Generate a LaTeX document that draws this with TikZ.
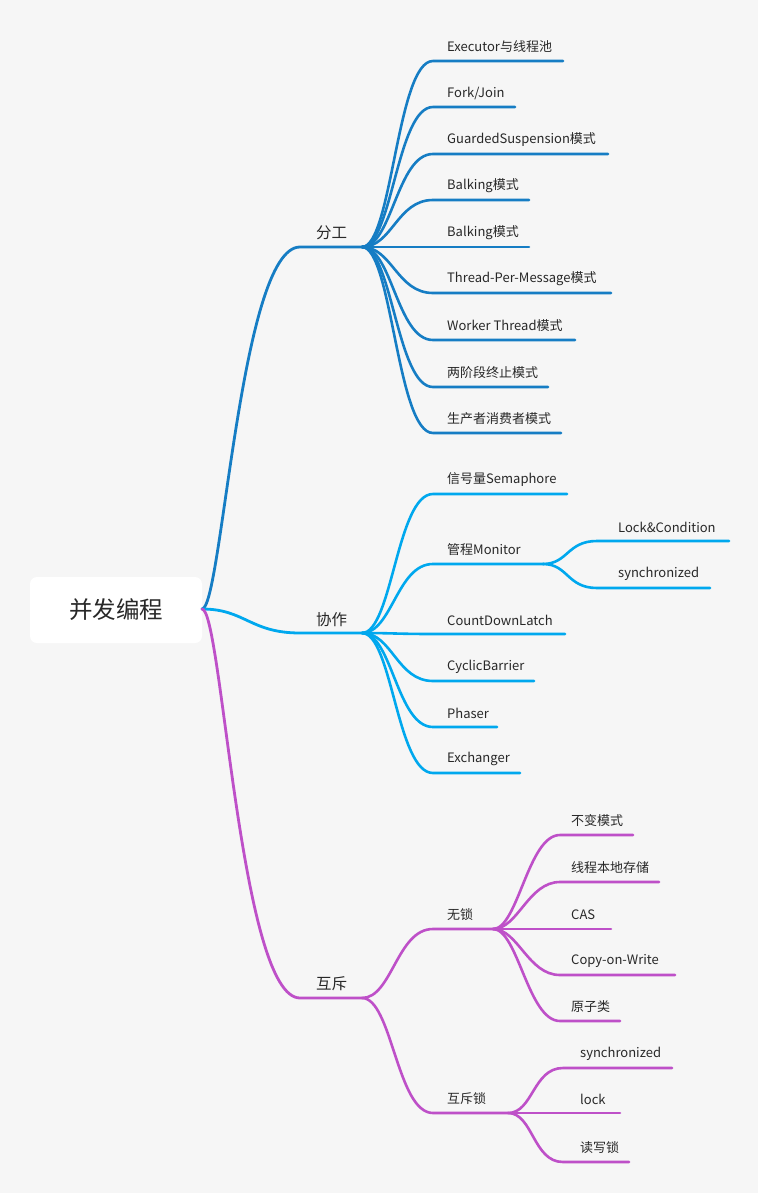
\documentclass[tikz,border=0pt]{standalone}
\usepackage{fontspec}
\setmainfont{Noto Sans CJK SC}
\definecolor{bgc}{RGB}{246,246,246}
\definecolor{cblue}{RGB}{22,125,196}
\definecolor{ccyan}{RGB}{0,168,238}
\definecolor{cpurp}{RGB}{190,80,200}
\definecolor{ctext}{RGB}{40,40,40}
\begin{document}
\begin{tikzpicture}[x=1pt,y=-1pt,
  rootbox/.style={fill=white,rounded corners=7pt,minimum width=172pt,minimum height=66pt,inner sep=0pt,text=ctext,font=\fontsize{23.5}{28}\selectfont},
  mainlbl/.style={anchor=west,inner sep=0pt,text=ctext,font=\fontsize{15.5}{18}\selectfont},
  leaf/.style={anchor=west,inner sep=0pt,text=ctext,font=\fontsize{13}{16}\selectfont},
  mainline/.style={line width=2.8pt,line cap=round},
  leafline/.style={line width=2.6pt,line cap=round},
]
\fill[bgc] (0,0) rectangle (758,1193);
\useasboundingbox (0,0) rectangle (758,1193);

\node[rootbox] (root) at (116,610) {并发编程};
\coordinate (r) at (202,609);

% main branches
\coordinate (fgs) at (300,247); \coordinate (fg) at (362,247);
\coordinate (xzs) at (300,633); \coordinate (xz) at (362,633);
\coordinate (hcs) at (300,998); \coordinate (hc) at (362,998);
\node[mainlbl] (fgl) at (316,233) {分工};
\node[mainlbl] (xzl) at (316,620) {协作};
\node[mainlbl] (hcl) at (316,984) {互斥};
\draw[mainline,cblue] (r) .. controls (222,609) and (240,247) .. (fgs) -- (fg);
\draw[mainline,ccyan] (r) .. controls (245,609) and (250,633) .. (xzs) -- (xz);
\draw[mainline,cpurp] (r) .. controls (222,609) and (240,998) .. (hcs) -- (hc);

% 分工 leaves
\foreach \n/\y/\e/\t in {
  a1/61/563/{Executor与线程池},
  a2/107/515/{Fork/Join},
  a3/154/608/{GuardedSuspension模式},
  a4/200/529/{Balking模式},
  a5/247/529/{Balking模式},
  a6/293/611/{Thread-Per-Message模式},
  a7/340/575/{Worker Thread模式},
  a8/387/548/{两阶段终止模式},
  a9/433/561/{生产者消费者模式}} {
  \coordinate (\n s) at (433,\y);
  \coordinate (\n e) at (\e,\y);
  \node[leaf] (\n) at (447,\y-14) {\t};
  \draw[leafline,cblue] (fg) .. controls +(30,0) and +(-36,0) .. (\n s) -- (\n e);
}

% 协作 leaves
\foreach \n/\y/\e/\t in {
  b1/494/567/{信号量Semaphore},
  b2/564/543/{管程Monitor},
  b3/634/565/{CountDownLatch},
  b4/681/534/{CyclicBarrier},
  b5/727/497/{Phaser},
  b6/773/520/{Exchanger}} {
  \coordinate (\n s) at (433,\y);
  \coordinate (\n e) at (\e,\y);
  \node[leaf] (\n) at (447,\y-14) {\t};
  \draw[leafline,ccyan] (xz) .. controls +(30,0) and +(-36,0) .. (\n s) -- (\n e);
}
\foreach \n/\y/\e/\t in {
  c1/541/729/{Lock\&Condition},
  c2/588/710/{synchronized}} {
  \coordinate (\n s) at (597,\y);
  \coordinate (\n e) at (\e,\y);
  \node[leaf] (\n) at (618,\y-14) {\t};
  \draw[leafline,ccyan] (b2e) .. controls +(25,0) and +(-30,0) .. (\n s) -- (\n e);
}

% 互斥 sub-branches
\foreach \n/\y/\e/\t in {
  d1/929/493/{无锁},
  d2/1113/508/{互斥锁}} {
  \coordinate (\n s) at (433,\y);
  \coordinate (\n e) at (\e,\y);
  \node[leaf] (\n) at (447,\y-14) {\t};
  \draw[leafline,cpurp] (hc) .. controls +(30,0) and +(-36,0) .. (\n s) -- (\n e);
}
\foreach \n/\y/\e/\t in {
  e1/835/633/{不变模式},
  e2/882/659/{线程本地存储},
  e3/929/611/{CAS},
  e4/975/675/{Copy-on-Write},
  e5/1021/620/{原子类}} {
  \coordinate (\n s) at (560,\y);
  \coordinate (\n e) at (\e,\y);
  \node[leaf] (\n) at (571,\y-14) {\t};
  \draw[leafline,cpurp] (d1e) .. controls +(25,0) and +(-32,0) .. (\n s) -- (\n e);
}
\foreach \n/\y/\e/\t in {
  f1/1068/672/{synchronized},
  f2/1113/620/{lock},
  f3/1162/629/{读写锁}} {
  \coordinate (\n s) at (563,\y);
  \coordinate (\n e) at (\e,\y);
  \node[leaf] (\n) at (580,\y-14) {\t};
  \draw[leafline,cpurp] (d2e) .. controls +(25,0) and +(-30,0) .. (\n s) -- (\n e);
}
\end{tikzpicture}
\end{document}
